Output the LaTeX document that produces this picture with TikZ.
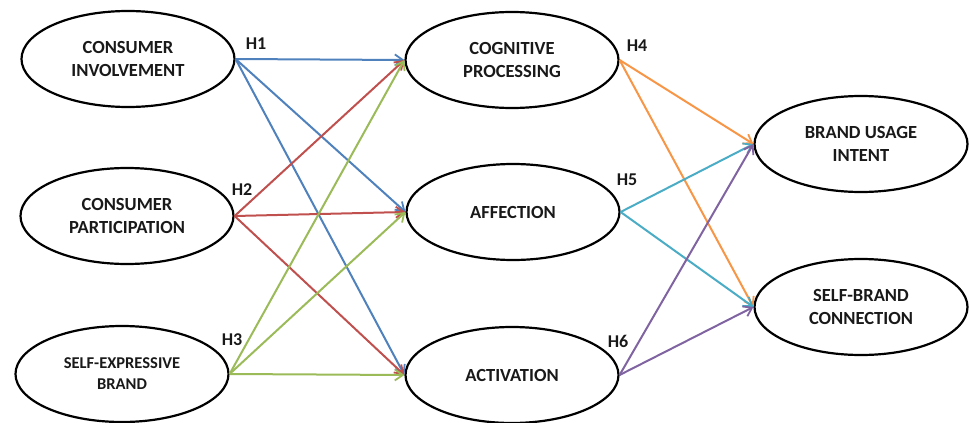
\documentclass[tikz,border=0pt]{standalone}
\usepackage{fontspec}
\setmainfont{Carlito}
\usetikzlibrary{shapes.geometric,arrows.meta}
\definecolor{cblue}{HTML}{4F81BD}
\definecolor{cred}{HTML}{C0504D}
\definecolor{cgreen}{HTML}{9BBB59}
\definecolor{corange}{HTML}{F79646}
\definecolor{ccyan}{HTML}{4BACC6}
\definecolor{cpurple}{HTML}{8064A2}
\tikzset{
  construct/.style={ellipse, draw=black, line width=2.2pt, minimum width=213pt, minimum height=96pt, inner sep=0pt, align=center, font=\fontsize{18.5}{23}\selectfont\bfseries, text=black!90},
  path/.style={line width=2pt, -{Straight Barb[length=8pt,width=11pt,line width=1.8pt]}},
  hlab/.style={font=\fontsize{18}{20}\selectfont\bfseries, text=black!90, inner sep=0pt}
}
\begin{document}
\begin{tikzpicture}[x=1pt,y=-1pt]
\useasboundingbox (0,0) rectangle (970,423);
\node[construct] (ci) at (128,59) {CONSUMER\\INVOLVEMENT};
\node[construct] (cp) at (127,216) {CONSUMER\\PARTICIPATION};
\node[construct, font=\fontsize{16.5}{21}\selectfont\bfseries] (seb) at (122,374) {SELF-EXPRESSIVE\\BRAND};
\node[construct] (cog) at (512,60) {COGNITIVE\\PROCESSING};
\node[construct] (aff) at (513,212) {AFFECTION};
\node[construct] (act) at (512,375) {ACTIVATION};
\node[construct] (bui) at (861,144) {BRAND USAGE\\INTENT};
\node[construct] (sbc) at (861,307) {SELF-BRAND\\CONNECTION};

\node[hlab] (h1) at (256,44) {H1};
\node[hlab] (h2) at (242,190) {H2};
\node[hlab] (h3) at (232,340) {H3};
\node[hlab] (h4) at (637,46) {H4};
\node[hlab] (h5) at (627,180) {H5};
\node[hlab] (h6) at (618,341) {H6};

\draw[path, cblue] (ci.east) -- (cog.west);
\draw[path, cblue] (ci.east) -- (aff.west);
\draw[path, cblue] (ci.east) -- (act.west);
\draw[path, cred] (cp.east) -- (cog.west);
\draw[path, cred] (cp.east) -- (aff.west);
\draw[path, cred] (cp.east) -- (act.west);
\draw[path, cgreen] (seb.east) -- (cog.west);
\draw[path, cgreen] (seb.east) -- (aff.west);
\draw[path, cgreen] (seb.east) -- (act.west);
\draw[path, corange] (cog.east) -- (bui.west);
\draw[path, corange] (cog.east) -- (sbc.west);
\draw[path, ccyan] (aff.east) -- (bui.west);
\draw[path, ccyan] (aff.east) -- (sbc.west);
\draw[path, cpurple] (act.east) -- (bui.west);
\draw[path, cpurple] (act.east) -- (sbc.west);
\end{tikzpicture}
\end{document}
